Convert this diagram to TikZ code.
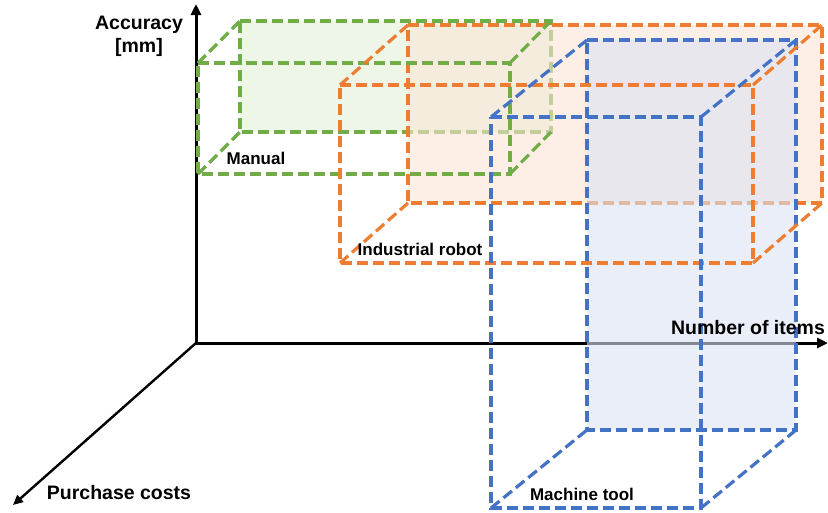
\documentclass[tikz,border=0pt]{standalone}
\usepackage{fontspec}
\setmainfont{Liberation Sans}
\usetikzlibrary{arrows.meta}

\definecolor{grn}{HTML}{70AD47}
\definecolor{org}{HTML}{ED7D31}
\definecolor{blu}{HTML}{4472C4}
\definecolor{grnfill}{HTML}{E2F0D9}
\definecolor{orgfill}{HTML}{FBE5D6}
\definecolor{blufill}{HTML}{DAE3F3}

\tikzset{
  axis/.style={line width=3pt, -{Triangle[length=11pt,width=10pt]}},
  depthaxis/.style={line width=2.4pt, -{Triangle[length=10pt,width=9pt]}},
  edge/.style={line width=3.2pt, dash pattern=on 11pt off 5pt},
  axislabel/.style={font=\fontsize{19.5}{23}\selectfont\bfseries, inner sep=0pt, align=center},
  boxlabel/.style={font=\fontsize{17}{20}\selectfont\bfseries, inner sep=0pt},
}

\begin{document}
\begin{tikzpicture}[x=1pt,y=-1pt]
\useasboundingbox (0,0) rectangle (828,512);

% axes
\coordinate (O) at (196,343);
\coordinate (ytip) at (196,4);
\coordinate (xtip) at (828,343);
\coordinate (ztip) at (13,505);
\draw[axis] (O) -- (ytip);
\draw[axis] (O) -- (xtip);
\draw[depthaxis] (O) -- (ztip);

% box corners: front face (f) and back face (b)
% Manual
\coordinate (g-f1) at (198,63);  \coordinate (g-f2) at (510,63);
\coordinate (g-f3) at (510,174); \coordinate (g-f4) at (198,174);
\coordinate (g-b1) at (240,21);  \coordinate (g-b2) at (551,21);
\coordinate (g-b3) at (551,132); \coordinate (g-b4) at (240,132);
% Industrial robot
\coordinate (o-f1) at (340,85);  \coordinate (o-f2) at (753,85);
\coordinate (o-f3) at (753,263); \coordinate (o-f4) at (340,263);
\coordinate (o-b1) at (408,25);  \coordinate (o-b2) at (822,25);
\coordinate (o-b3) at (822,203); \coordinate (o-b4) at (408,203);
% Machine tool
\coordinate (b-f1) at (491,117); \coordinate (b-f2) at (701,117);
\coordinate (b-f3) at (701,508); \coordinate (b-f4) at (491,508);
\coordinate (b-b1) at (587,40);  \coordinate (b-b2) at (796,40);
\coordinate (b-b3) at (796,430); \coordinate (b-b4) at (587,430);

% rear faces, translucent, in depth order
\draw[edge, grn, fill=grnfill, fill opacity=0.6] (g-b1) -- (g-b2) -- (g-b3) -- (g-b4) -- cycle;
\draw[edge, org, fill=orgfill, fill opacity=0.6] (o-b1) -- (o-b2) -- (o-b3) -- (o-b4) -- cycle;
\draw[edge, blu, fill=blufill, fill opacity=0.6] (b-b1) -- (b-b2) -- (b-b3) -- (b-b4) -- cycle;

% depth edges and front faces
\foreach \c/\col in {g/grn, o/org, b/blu}{
  \draw[edge, \col] (\c-f1) -- (\c-b1);
  \draw[edge, \col] (\c-f2) -- (\c-b2);
  \draw[edge, \col] (\c-f3) -- (\c-b3);
  \draw[edge, \col] (\c-f4) -- (\c-b4);
  \draw[edge, \col] (\c-f1) -- (\c-f2) -- (\c-f3) -- (\c-f4) -- cycle;
}

% labels
\node[axislabel] (lacc) at (139,36) {Accuracy\\{}[mm]};
\node[axislabel] (litems) at (748,328) {Number of items};
\node[axislabel] (lcost) at (119,493) {Purchase costs};
\node[boxlabel] (lman) at (256,158) {Manual};
\node[boxlabel] (lrob) at (420,249) {Industrial robot};
\node[boxlabel] (ltool) at (582,494) {Machine tool};
\end{tikzpicture}
\end{document}
